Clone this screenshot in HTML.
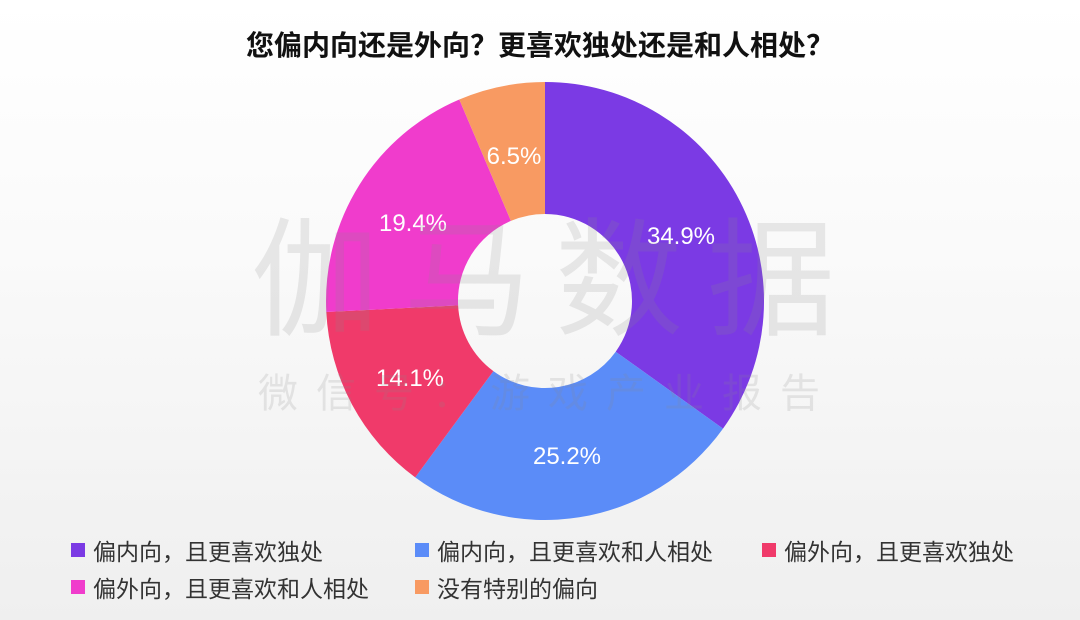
<!DOCTYPE html>
<html><head><meta charset="utf-8"><style>
html,body{margin:0;padding:0}
body{width:1080px;height:620px;overflow:hidden;background:linear-gradient(#ffffff 0%,#fafafa 40%,#efefef 100%);font-family:"Liberation Sans","Noto Sans CJK SC",sans-serif;position:relative}
.t{position:absolute;top:24px;left:0;width:1080px;text-align:center;font-size:28px;font-weight:bold;color:#111}
.lg{position:absolute;font-size:23px;color:#333;display:flex;align-items:center}
.lg i{display:inline-block;width:14px;height:14px;margin-right:8px}
</style></head><body>
<div class="t">您偏内向还是外向？更喜欢独处还是和人相处？</div>
<svg width="1080" height="620" style="position:absolute;left:0;top:0" font-family="Liberation Sans, Noto Sans CJK SC, sans-serif">
<path d="M545,82 A219,219 0 0 1 723.0,428.6 L615.7,351.7 A87,87 0 0 0 545,214 Z" fill="#7b3ae4"/>
<path d="M723.0,428.6 A219,219 0 0 1 415.2,477.4 L493.4,371.1 A87,87 0 0 0 615.7,351.7 Z" fill="#5b8cf8"/>
<path d="M415.2,477.4 A219,219 0 0 1 326.3,312.0 L458.1,305.4 A87,87 0 0 0 493.4,371.1 Z" fill="#f03a6a"/>
<path d="M326.3,312.0 A219,219 0 0 1 459.3,99.5 L510.9,220.9 A87,87 0 0 0 458.1,305.4 Z" fill="#f03ccc"/>
<path d="M459.3,99.5 A219,219 0 0 1 545,82 L545,214 A87,87 0 0 0 510.9,220.9 Z" fill="#f89a62"/>
<g fill="#fff" font-size="24" text-anchor="middle">
<text x="681" y="244">34.9%</text>
<text x="567" y="464">25.2%</text>
<text x="410" y="386">14.1%</text>
<text x="413" y="231">19.4%</text>
<text x="514" y="164">6.5%</text>
</g>
<g fill="#888" fill-opacity="0.18" text-anchor="middle">
<text x="555" y="325" font-size="128" letter-spacing="24">伽马数据</text>
<text x="548" y="407" font-size="40" letter-spacing="18">微信号：游戏产业报告</text>
</g>
</svg>
<div class="lg" style="left:71px;top:533px"><i style="background:#7b3ae4"></i>偏内向，且更喜欢独处</div>
<div class="lg" style="left:415px;top:533px"><i style="background:#5b8cf8"></i>偏内向，且更喜欢和人相处</div>
<div class="lg" style="left:762px;top:533px"><i style="background:#f03a6a"></i>偏外向，且更喜欢独处</div>
<div class="lg" style="left:71px;top:570px"><i style="background:#f03ccc"></i>偏外向，且更喜欢和人相处</div>
<div class="lg" style="left:415px;top:570px"><i style="background:#f89a62"></i>没有特别的偏向</div>
</body></html>
